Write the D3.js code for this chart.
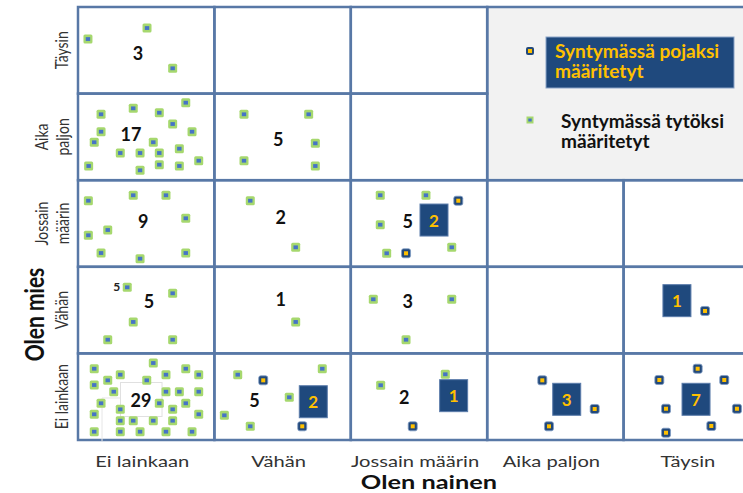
<!DOCTYPE html>
<html><head><meta charset="utf-8">
<script src="https://cdn.jsdelivr.net/npm/d3@7"></script>
<style>html,body{margin:0;padding:0;background:#fff;}svg{display:block;}</style>
</head><body>
<svg id="chart" width="743" height="493"></svg>
<script>
// Categories (same scale for both axes)
const womanCategories = ["Ei lainkaan","Vähän","Jossain määrin","Aika paljon","Täysin"]; // x: Olen nainen
const manCategories   = ["Ei lainkaan","Vähän","Jossain määrin","Aika paljon","Täysin"];  // y: Olen mies
const manLabelLines   = [["Ei lainkaan"],["Vähän"],["Jossain","määrin"],["Aika","paljon"],["Täysin"]];
const xTitle = "Olen nainen";
const yTitle = "Olen mies";
const legendBoys  = ["Syntymässä pojaksi","määritetyt"];
const legendGirls = ["Syntymässä tytöksi","määritetyt"];

// Counts per cell: [xValue(label pos), yValue(label pos), count]
const girlCounts = [
  [0.440,4.469,3],[0.389,3.533,17],[1.468,3.472,5],[0.479,2.532,9],[1.486,2.572,2],
  [0.521,1.605,5],[1.486,1.628,1],[2.417,2.525,5],[2.417,1.605,3],[0.462,0.462,29],
  [1.293,0.462,5],[2.392,0.500,2]
];
const boyCounts = [
  [2.610,2.540,2],[4.391,1.609,1],[1.725,0.442,2],[2.754,0.512,1],[3.583,0.470,3],[4.531,0.470,7]
];
const extraNote = [[0.284,1.770,5]];

// Individual respondents (jittered inside their cell): [x, y]
const girlPoints = [
  [0.073,4.630],[0.506,4.757],[0.694,4.292],
  [0.169,3.761],[0.405,3.830],[0.596,3.779],[0.790,3.895],[0.694,3.649],[0.169,3.560],[0.836,3.560],
  [0.119,3.438],[0.552,3.438],[0.743,3.364],[0.310,3.314],[0.455,3.314],[0.596,3.314],[0.078,3.164],
  [0.596,3.179],[0.743,3.164],[0.455,3.114],[0.885,3.225],
  [1.217,3.761],[1.691,3.761],[1.740,3.426],[1.217,3.225],[1.740,3.164],
  [0.076,2.763],[0.405,2.826],[0.645,2.826],[0.790,2.560],[0.218,2.425],[0.076,2.364],[0.169,2.159],
  [0.455,2.094],[0.790,2.159],
  [1.263,2.763],[1.596,2.225],
  [0.361,1.763],[0.694,1.694],[0.405,1.363],[0.218,1.158],[0.694,1.158],
  [1.596,1.363],
  [2.216,2.826],[2.551,2.826],[2.216,2.486],[2.263,2.156],[2.740,2.225],
  [2.165,1.625],[2.740,1.625],[2.405,1.158],
  [0.552,0.889],[0.119,0.823],[0.790,0.823],[0.310,0.754],[0.645,0.754],[0.885,0.754],[0.218,0.689],
  [0.504,0.689],[0.119,0.635],[0.262,0.558],[0.645,0.558],[0.743,0.558],[0.885,0.558],[0.169,0.424],
  [0.596,0.424],[0.790,0.424],[0.310,0.354],[0.694,0.354],[0.119,0.297],[0.885,0.297],[0.310,0.223],
  [0.405,0.223],[0.552,0.223],[0.694,0.223],[0.119,0.096],[0.310,0.096],[0.455,0.096],[0.645,0.096],
  [0.836,0.096],
  [1.171,0.754],[1.791,0.823],[1.549,0.493],[1.073,0.285],[1.263,0.158],
  [2.219,0.632],[2.693,0.759]
];
const boyPoints = [
  [2.788,2.763],[2.405,2.156],
  [4.597,1.490],
  [1.358,0.689],[1.644,0.158],
  [2.454,0.158],
  [3.404,0.689],[3.788,0.358],[3.453,0.158],
  [4.543,0.823],[4.262,0.693],[4.738,0.693],[4.311,0.361],[4.831,0.361],[4.643,0.162],[4.311,0.084]
];

const svg = d3.select("#chart");
const FONT = "Lato, 'Open Sans', sans-serif";
const x = d3.scaleLinear().domain([0,5]).range([78,760]);
const y = d3.scaleLinear().domain([0,5]).range([440,7]);
const GRID = "#5878a6";
const HS = 1.3; // horizontal stretch of the original picture

// Legend background
svg.append("rect").attr("x",x(3)).attr("y",y(5)).attr("width",x(5)-x(3)+10).attr("height",y(3)-y(5))
  .attr("fill","#f2f2f2").attr("stroke",GRID).attr("stroke-width",2.5);

// Grid cells
const cells = [];
for (let r=0;r<5;r++) for (let c=0;c<5;c++) { if (r>=3 && c>=3) continue; cells.push([c,r]); }
svg.append("g").selectAll("rect").data(cells).join("rect")
  .attr("x",d=>x(d[0])).attr("y",d=>y(d[1]+1))
  .attr("width",x(1)-x(0)).attr("height",y(0)-y(1))
  .attr("fill","none").attr("stroke",GRID).attr("stroke-width",2.5);

// white label box behind 29
const g29 = girlCounts.find(d=>d[2]===29);
svg.append("path").attr("d",`M${x(g29[0])-39},${y(g29[1])+41}V${y(g29[1])-2}H${x(g29[0])-20}`)
  .attr("fill","none").attr("stroke","#e6e6e6").attr("stroke-width",1);
svg.append("rect").attr("x",x(g29[0])-20.5).attr("y",y(g29[1])-17.5).attr("width",41.5).attr("height",34)
  .attr("fill","#fff").attr("stroke","#e0e0e0").attr("stroke-width",1);

// Girl markers
const gm = svg.append("g").selectAll("g").data(girlPoints).join("g")
  .attr("transform",d=>`translate(${x(d[0])},${y(d[1])})`);
gm.append("rect").attr("x",-4.5).attr("y",-4.5).attr("width",9).attr("height",9).attr("rx",1.5)
  .attr("fill","#a6d86e");
gm.append("rect").attr("x",-2.2).attr("y",-1.9).attr("width",4.4).attr("height",3.8).attr("fill","#4674c6");

// Boy markers
const bm = svg.append("g").selectAll("g").data(boyPoints).join("g")
  .attr("transform",d=>`translate(${x(d[0])},${y(d[1])})`);
bm.append("rect").attr("x",-4.5).attr("y",-4.5).attr("width",9).attr("height",9).attr("rx",2)
  .attr("fill","#23497a").attr("stroke","#7f9cc4").attr("stroke-width",0.8);
bm.append("rect").attr("x",-2).attr("y",-2).attr("width",4).attr("height",4).attr("fill","#ffc000");

// Girl count labels
svg.append("g").selectAll("text").data(girlCounts).join("text")
  .attr("x",d=>x(d[0])).attr("y",d=>y(d[1])).attr("text-anchor","middle").attr("dominant-baseline","central")
  .attr("font-family",FONT).attr("font-weight","bold").attr("font-size",18).attr("fill","#111")
  .text(d=>d[2]);
svg.append("g").selectAll("text").data(extraNote).join("text")
  .attr("x",d=>x(d[0])).attr("y",d=>y(d[1])).attr("text-anchor","middle").attr("dominant-baseline","central")
  .attr("font-family",FONT).attr("font-weight","bold").attr("font-size",12).attr("fill","#222")
  .text(d=>d[2]);

// Boy count boxes
const bb = svg.append("g").selectAll("g").data(boyCounts).join("g")
  .attr("transform",d=>`translate(${x(d[0])},${y(d[1])})`);
bb.append("rect").attr("x",-14).attr("y",-16).attr("width",28).attr("height",32)
  .attr("fill","#1f497d").attr("stroke","#5b7cab").attr("stroke-width",1);
bb.append("text").attr("text-anchor","middle").attr("dominant-baseline","central")
  .attr("font-family",FONT).attr("font-weight","bold").attr("font-size",17).attr("fill","#ffc000")
  .text(d=>d[2]);

// Legend
const lg = svg.append("g");
lg.append("g").attr("transform","translate(530,51)").call(s=>{
  s.append("rect").attr("x",-4).attr("y",-4).attr("width",8).attr("height",8).attr("rx",2).attr("fill","#23497a");
  s.append("rect").attr("x",-2).attr("y",-2).attr("width",4).attr("height",4).attr("fill","#ffc000");
});
lg.append("rect").attr("x",546).attr("y",37).attr("width",188).attr("height",51)
  .attr("fill","#1f497d").attr("stroke","#8aa3c7").attr("stroke-width",1);
lg.append("text").attr("transform","translate(555,58) scale(1.06,1)").attr("font-family",FONT).attr("font-weight","bold")
  .attr("font-size",18).attr("fill","#ffc000")
  .selectAll("tspan").data(legendBoys).join("tspan").attr("x",0).attr("dy",(d,i)=>i?20:0).text(d=>d);
lg.append("g").attr("transform","translate(530,120)").call(s=>{
  s.append("rect").attr("x",-3.5).attr("y",-3.5).attr("width",7).attr("height",7).attr("fill","#a6d86e");
  s.append("rect").attr("x",-1.7).attr("y",-1.5).attr("width",3.4).attr("height",3).attr("fill","#4674c6");
});
lg.append("text").attr("transform","translate(561,128) scale(1.06,1)").attr("font-family",FONT).attr("font-weight","bold")
  .attr("font-size",18).attr("fill","#111")
  .selectAll("tspan").data(legendGirls).join("tspan").attr("x",0).attr("dy",(d,i)=>i?20:0).text(d=>d);

// X axis tick labels
svg.append("g").selectAll("text").data(womanCategories).join("text")
  .attr("transform",(d,i)=>`translate(${x(i+0.5)-4},461) scale(${HS},1)`)
  .attr("text-anchor","middle").attr("dominant-baseline","central")
  .attr("font-family",FONT).attr("font-size",15.5).attr("fill","#333").text(d=>d);
svg.append("text").attr("transform",`translate(${x(2.5)+10},481.5) scale(1.3,1)`)
  .attr("text-anchor","middle").attr("dominant-baseline","central")
  .attr("font-family",FONT).attr("font-weight","bold").attr("font-size",19.5).attr("fill","#111").text(xTitle);

// Y axis tick labels (rotated)
const yl = svg.append("g").selectAll("text").data(manLabelLines).join("text")
  .attr("transform",(d,i)=>`translate(${d.length>1?40:60},${y(i+0.5)}) rotate(-90) scale(1,${HS})`)
  .attr("text-anchor","middle").attr("dominant-baseline","central")
  .attr("font-family",FONT).attr("font-size",14).attr("fill","#333");
yl.selectAll("tspan").data(d=>d).join("tspan").attr("x",0).attr("dy",(d,i)=>i?16:0).text(d=>d);
svg.append("text").attr("transform",`translate(33,${y(1.45)}) rotate(-90) scale(1,${HS})`)
  .attr("text-anchor","middle").attr("dominant-baseline","central")
  .attr("font-family",FONT).attr("font-weight","bold").attr("font-size",21).attr("fill","#111").text(yTitle);
</script>
</body></html>
